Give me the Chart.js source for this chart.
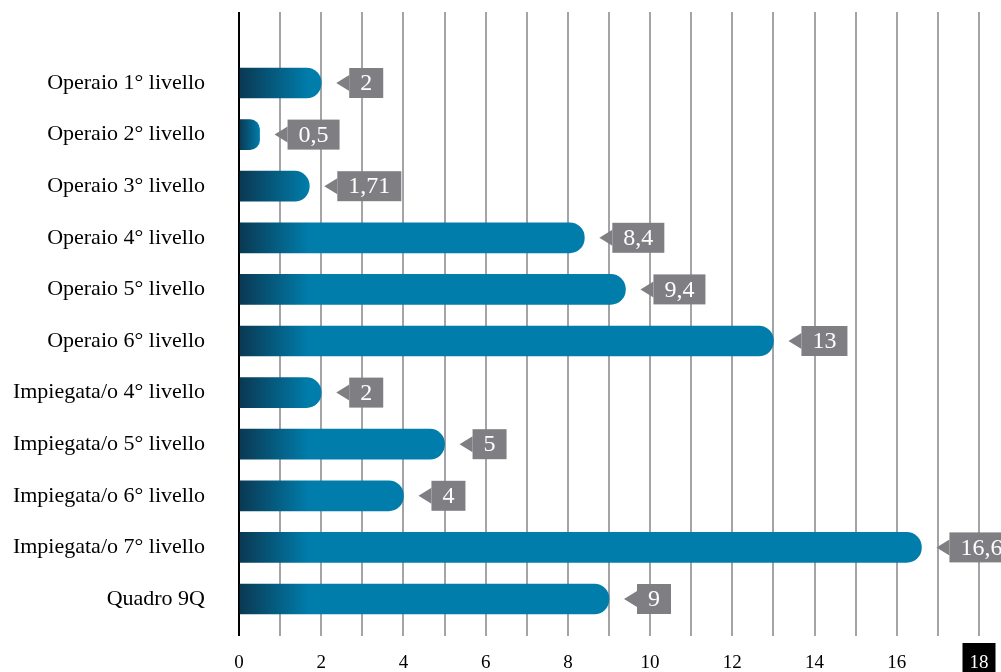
<!DOCTYPE html>
<html>
<head>
<meta charset="utf-8">
<script src="https://cdn.jsdelivr.net/npm/chart.js@4"></script>
<style>
  html, body { margin: 0; padding: 0; background: #fff; }
  #wrap { width: 1001px; height: 672px; }
</style>
</head>
<body>
<div id="wrap"><canvas id="chart"></canvas></div>
<script>
const categories = [
  "Operaio 1° livello",
  "Operaio 2° livello",
  "Operaio 3° livello",
  "Operaio 4° livello",
  "Operaio 5° livello",
  "Operaio 6° livello",
  "Impiegata/o 4° livello",
  "Impiegata/o 5° livello",
  "Impiegata/o 6° livello",
  "Impiegata/o 7° livello",
  "Quadro 9Q",
];
const values = [2, 0.5, 1.71, 8.4, 9.4, 13, 2, 5, 4, 16.6, 9];
const xTicks = [0, 2, 4, 6, 8, 10, 12, 14, 16, 18];

const serif = "'Liberation Serif', 'DejaVu Serif', serif";
const blue = "#007dab";
const dark = "#0a3852";

// value tags: grey box with a little arrow pointing at the bar end
const tagPlugin = {
  id: "tags",
  afterDatasetsDraw(chart) {
    const ctx = chart.ctx;
    const meta = chart.getDatasetMeta(0);
    ctx.save();
    ctx.font = "24px " + serif;
    meta.data.forEach((bar, i) => {
      const text = values[i].toString().replace(".", ",");
      const w = ctx.measureText(text).width + 22;
      const tip = bar.x + 15;
      const left = bar.x + 28;
      ctx.fillStyle = "#7f7f83";
      ctx.fillRect(left, bar.y - 15, w, 30);
      ctx.beginPath();
      ctx.moveTo(tip, bar.y);
      ctx.lineTo(left, bar.y - 8);
      ctx.lineTo(left, bar.y + 8);
      ctx.closePath();
      ctx.fill();
      ctx.fillStyle = "#fff";
      ctx.textAlign = "center";
      ctx.textBaseline = "middle";
      ctx.fillText(text, left + w / 2, bar.y + 1);
    });
    ctx.restore();
  },
};

new Chart(document.getElementById("chart"), {
  type: "bar",
  data: {
    datasets: [
      {
        data: values.map((v, i) => ({ x: v, y: i })),
        barThickness: 30,
        borderSkipped: "start",
        borderRadius: { topRight: 15, bottomRight: 15 },
        backgroundColor: (c) => {
          const chart = c.chart;
          if (!chart.chartArea || !c.raw) return blue;
          const x0 = chart.scales.x.getPixelForValue(0);
          const x1 = chart.scales.x.getPixelForValue(c.raw.x);
          const g = chart.ctx.createLinearGradient(x0, 0, x0 + Math.min(x1 - x0, 70), 0);
          g.addColorStop(0, dark);
          g.addColorStop(1, blue);
          return g;
        },
      },
    ],
  },
  options: {
    indexAxis: "y",
    responsive: true,
    maintainAspectRatio: false,
    animation: false,
    layout: { padding: { top: 12, right: 22, left: 0, bottom: 0 } },
    plugins: {
      legend: { display: false },
      tooltip: { enabled: false },
    },
    scales: {
      x: {
        type: "linear",
        min: 0,
        max: 18,
        border: { display: false },
        grid: {
          drawTicks: false,
          lineWidth: 2,
          color: (c) => (c.tick && c.tick.value === 0 ? "#000" : "#a4a4a8"),
        },
        afterFit: (scale) => {
          scale.height = 36;
          scale.paddingLeft = 0;
          scale.paddingRight = 0;
        },
        ticks: {
          stepSize: 1,
          autoSkip: false,
          maxRotation: 0,
          padding: 16,
          font: { family: serif, size: 19 },
          color: (c) => (c.tick && c.tick.value === 18 ? "#fff" : "#000"),
          showLabelBackdrop: (c) => c.tick && c.tick.value === 18,
          backdropColor: (c) => (c.tick && c.tick.value === 18 ? "#000" : "rgba(0,0,0,0)"),
          backdropPadding: { left: 7, right: 7, top: 9, bottom: 12 },
          callback: (v) => (xTicks.includes(v) ? v.toString() : ""),
        },
      },
      y: {
        type: "linear",
        reverse: true,
        offset: false,
        min: -1.376,
        max: 10.717,
        border: { display: false },
        grid: { display: false, drawTicks: false, offset: false },
        afterFit: (scale) => {
          scale.width = 239;
          scale.paddingTop = 0;
          scale.paddingBottom = 0;
        },
        ticks: {
          stepSize: 1,
          includeBounds: false,
          autoSkip: false,
          padding: 34,
          color: "#000",
          font: { family: serif, size: 22 },
          callback: (v) => categories[v] ?? "",
        },
      },
    },
  },
  plugins: [tagPlugin],
});
</script>
</body>
</html>
